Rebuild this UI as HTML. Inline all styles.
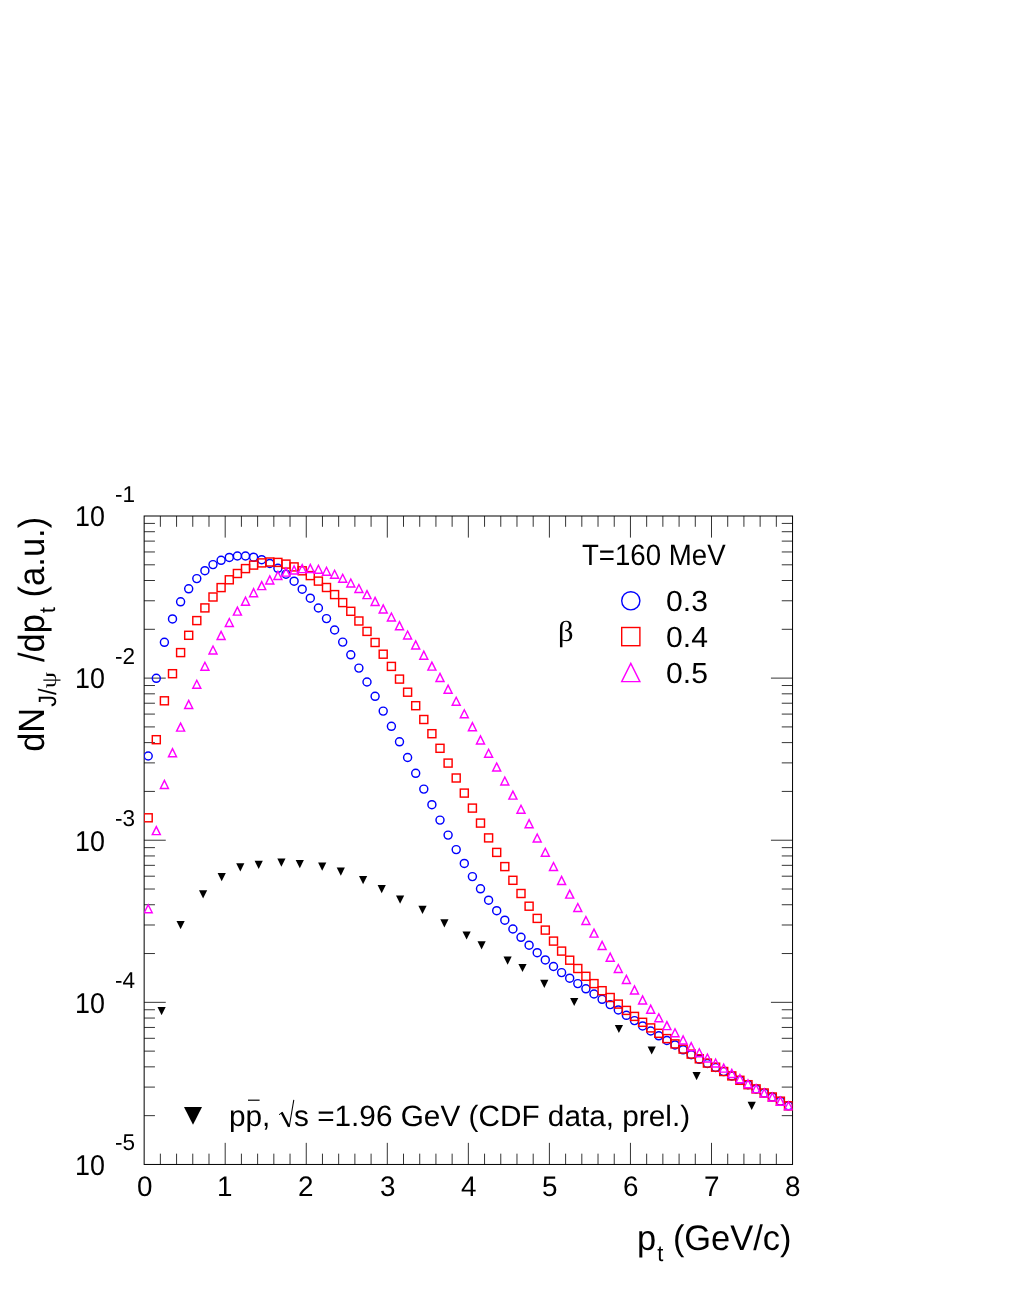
<!DOCTYPE html>
<html><head><meta charset="utf-8"><title>J/psi pt spectrum</title>
<style>
html,body{margin:0;padding:0;background:#fff;}
body{width:1011px;height:1309px;position:relative;overflow:hidden;font-family:"Liberation Sans",sans-serif;color:#000;}
#txt{position:absolute;left:0;top:0;width:1011px;height:1309px;will-change:transform;text-rendering:geometricPrecision;}
.t{position:absolute;white-space:nowrap;line-height:1;}
.s{display:inline-block;transform-origin:0 0;}
.sym{font-family:"Liberation Serif",serif;}
</style></head><body>
<svg width="1011" height="1309" viewBox="0 0 1011 1309" style="position:absolute;left:0;top:0">
<defs><clipPath id="fc"><rect x="144.2" y="516.0" width="648.4" height="648.5"/></clipPath></defs>
<g stroke="#000" fill="none">
<rect x="144.15" y="516.00" width="648.40" height="648.45" stroke-width="1.0"/>
<path stroke-width="0.8" d="M160.36 1164.45v-10.80M160.36 516.00v10.80M176.57 1164.45v-10.80M176.57 516.00v10.80M192.78 1164.45v-10.80M192.78 516.00v10.80M208.99 1164.45v-10.80M208.99 516.00v10.80M225.20 1164.45v-21.60M225.20 516.00v21.60M241.41 1164.45v-10.80M241.41 516.00v10.80M257.62 1164.45v-10.80M257.62 516.00v10.80M273.83 1164.45v-10.80M273.83 516.00v10.80M290.04 1164.45v-10.80M290.04 516.00v10.80M306.25 1164.45v-21.60M306.25 516.00v21.60M322.46 1164.45v-10.80M322.46 516.00v10.80M338.67 1164.45v-10.80M338.67 516.00v10.80M354.88 1164.45v-10.80M354.88 516.00v10.80M371.09 1164.45v-10.80M371.09 516.00v10.80M387.30 1164.45v-21.60M387.30 516.00v21.60M403.51 1164.45v-10.80M403.51 516.00v10.80M419.72 1164.45v-10.80M419.72 516.00v10.80M435.93 1164.45v-10.80M435.93 516.00v10.80M452.14 1164.45v-10.80M452.14 516.00v10.80M468.35 1164.45v-21.60M468.35 516.00v21.60M484.56 1164.45v-10.80M484.56 516.00v10.80M500.77 1164.45v-10.80M500.77 516.00v10.80M516.98 1164.45v-10.80M516.98 516.00v10.80M533.19 1164.45v-10.80M533.19 516.00v10.80M549.40 1164.45v-21.60M549.40 516.00v21.60M565.61 1164.45v-10.80M565.61 516.00v10.80M581.82 1164.45v-10.80M581.82 516.00v10.80M598.03 1164.45v-10.80M598.03 516.00v10.80M614.24 1164.45v-10.80M614.24 516.00v10.80M630.45 1164.45v-21.60M630.45 516.00v21.60M646.66 1164.45v-10.80M646.66 516.00v10.80M662.87 1164.45v-10.80M662.87 516.00v10.80M679.08 1164.45v-10.80M679.08 516.00v10.80M695.29 1164.45v-10.80M695.29 516.00v10.80M711.50 1164.45v-21.60M711.50 516.00v21.60M727.71 1164.45v-10.80M727.71 516.00v10.80M743.92 1164.45v-10.80M743.92 516.00v10.80M760.13 1164.45v-10.80M760.13 516.00v10.80M776.34 1164.45v-10.80M776.34 516.00v10.80M144.15 629.31h10.80M792.55 629.31h-10.80M144.15 600.77h10.80M792.55 600.77h-10.80M144.15 580.51h10.80M792.55 580.51h-10.80M144.15 564.80h10.80M792.55 564.80h-10.80M144.15 551.96h10.80M792.55 551.96h-10.80M144.15 541.11h10.80M792.55 541.11h-10.80M144.15 531.71h10.80M792.55 531.71h-10.80M144.15 523.42h10.80M792.55 523.42h-10.80M144.15 678.11h21.60M792.55 678.11h-21.60M144.15 791.42h10.80M792.55 791.42h-10.80M144.15 762.88h10.80M792.55 762.88h-10.80M144.15 742.62h10.80M792.55 742.62h-10.80M144.15 726.91h10.80M792.55 726.91h-10.80M144.15 714.08h10.80M792.55 714.08h-10.80M144.15 703.22h10.80M792.55 703.22h-10.80M144.15 693.82h10.80M792.55 693.82h-10.80M144.15 685.53h10.80M792.55 685.53h-10.80M144.15 840.23h21.60M792.55 840.23h-21.60M144.15 953.54h10.80M792.55 953.54h-10.80M144.15 924.99h10.80M792.55 924.99h-10.80M144.15 904.74h10.80M792.55 904.74h-10.80M144.15 889.03h10.80M792.55 889.03h-10.80M144.15 876.19h10.80M792.55 876.19h-10.80M144.15 865.34h10.80M792.55 865.34h-10.80M144.15 855.94h10.80M792.55 855.94h-10.80M144.15 847.64h10.80M792.55 847.64h-10.80M144.15 1002.34h21.60M792.55 1002.34h-21.60M144.15 1115.65h10.80M792.55 1115.65h-10.80M144.15 1087.10h10.80M792.55 1087.10h-10.80M144.15 1066.85h10.80M792.55 1066.85h-10.80M144.15 1051.14h10.80M792.55 1051.14h-10.80M144.15 1038.30h10.80M792.55 1038.30h-10.80M144.15 1027.45h10.80M792.55 1027.45h-10.80M144.15 1018.05h10.80M792.55 1018.05h-10.80M144.15 1009.76h10.80M792.55 1009.76h-10.80"/>
</g>
<g clip-path="url(#fc)" fill="none" stroke-width="1.45">
<g stroke="#0000ff">
<circle cx="148.2" cy="756.0" r="4.0"/>
<circle cx="156.3" cy="678.3" r="4.0"/>
<circle cx="164.4" cy="642.3" r="4.0"/>
<circle cx="172.5" cy="618.9" r="4.0"/>
<circle cx="180.6" cy="601.8" r="4.0"/>
<circle cx="188.7" cy="588.8" r="4.0"/>
<circle cx="196.8" cy="578.6" r="4.0"/>
<circle cx="204.9" cy="570.7" r="4.0"/>
<circle cx="213.0" cy="564.6" r="4.0"/>
<circle cx="221.1" cy="560.3" r="4.0"/>
<circle cx="229.3" cy="557.4" r="4.0"/>
<circle cx="237.4" cy="556.0" r="4.0"/>
<circle cx="245.5" cy="556.0" r="4.0"/>
<circle cx="253.6" cy="557.2" r="4.0"/>
<circle cx="261.7" cy="559.7" r="4.0"/>
<circle cx="269.8" cy="563.4" r="4.0"/>
<circle cx="277.9" cy="568.3" r="4.0"/>
<circle cx="286.0" cy="574.2" r="4.0"/>
<circle cx="294.1" cy="581.2" r="4.0"/>
<circle cx="302.2" cy="589.2" r="4.0"/>
<circle cx="310.3" cy="598.2" r="4.0"/>
<circle cx="318.4" cy="608.0" r="4.0"/>
<circle cx="326.5" cy="618.6" r="4.0"/>
<circle cx="334.6" cy="630.0" r="4.0"/>
<circle cx="342.7" cy="642.1" r="4.0"/>
<circle cx="350.8" cy="654.8" r="4.0"/>
<circle cx="358.9" cy="668.1" r="4.0"/>
<circle cx="367.0" cy="682.0" r="4.0"/>
<circle cx="375.1" cy="696.3" r="4.0"/>
<circle cx="383.2" cy="711.1" r="4.0"/>
<circle cx="391.4" cy="726.3" r="4.0"/>
<circle cx="399.5" cy="741.8" r="4.0"/>
<circle cx="407.6" cy="757.5" r="4.0"/>
<circle cx="415.7" cy="773.3" r="4.0"/>
<circle cx="423.8" cy="789.1" r="4.0"/>
<circle cx="431.9" cy="804.7" r="4.0"/>
<circle cx="440.0" cy="820.1" r="4.0"/>
<circle cx="448.1" cy="835.1" r="4.0"/>
<circle cx="456.2" cy="849.6" r="4.0"/>
<circle cx="464.3" cy="863.4" r="4.0"/>
<circle cx="472.4" cy="876.6" r="4.0"/>
<circle cx="480.5" cy="888.8" r="4.0"/>
<circle cx="488.6" cy="900.2" r="4.0"/>
<circle cx="496.7" cy="910.7" r="4.0"/>
<circle cx="504.8" cy="920.2" r="4.0"/>
<circle cx="512.9" cy="929.0" r="4.0"/>
<circle cx="521.0" cy="937.3" r="4.0"/>
<circle cx="529.1" cy="945.2" r="4.0"/>
<circle cx="537.2" cy="952.7" r="4.0"/>
<circle cx="545.3" cy="959.9" r="4.0"/>
<circle cx="553.5" cy="966.5" r="4.0"/>
<circle cx="561.6" cy="972.6" r="4.0"/>
<circle cx="569.7" cy="978.2" r="4.0"/>
<circle cx="577.8" cy="983.6" r="4.0"/>
<circle cx="585.9" cy="988.8" r="4.0"/>
<circle cx="594.0" cy="994.0" r="4.0"/>
<circle cx="602.1" cy="999.3" r="4.0"/>
<circle cx="610.2" cy="1004.6" r="4.0"/>
<circle cx="618.3" cy="1009.9" r="4.0"/>
<circle cx="626.4" cy="1015.3" r="4.0"/>
<circle cx="634.5" cy="1020.6" r="4.0"/>
<circle cx="642.6" cy="1025.9" r="4.0"/>
<circle cx="650.7" cy="1031.0" r="4.0"/>
<circle cx="658.8" cy="1035.8" r="4.0"/>
<circle cx="666.9" cy="1040.4" r="4.0"/>
<circle cx="675.0" cy="1044.9" r="4.0"/>
<circle cx="683.1" cy="1049.8" r="4.0"/>
<circle cx="691.2" cy="1054.7" r="4.0"/>
<circle cx="699.3" cy="1059.3" r="4.0"/>
<circle cx="707.4" cy="1063.5" r="4.0"/>
<circle cx="715.6" cy="1067.5" r="4.0"/>
<circle cx="723.7" cy="1071.6" r="4.0"/>
<circle cx="731.8" cy="1075.9" r="4.0"/>
<circle cx="739.9" cy="1080.3" r="4.0"/>
<circle cx="748.0" cy="1084.7" r="4.0"/>
<circle cx="756.1" cy="1088.9" r="4.0"/>
<circle cx="764.2" cy="1093.0" r="4.0"/>
<circle cx="772.3" cy="1097.0" r="4.0"/>
<circle cx="780.4" cy="1101.2" r="4.0"/>
<circle cx="788.5" cy="1105.8" r="4.0"/>
</g><g stroke="#ff0000">
<rect x="144.2" y="813.8" width="8.0" height="8.0"/>
<rect x="152.3" y="735.7" width="8.0" height="8.0"/>
<rect x="160.4" y="696.8" width="8.0" height="8.0"/>
<rect x="168.5" y="669.7" width="8.0" height="8.0"/>
<rect x="176.6" y="648.6" width="8.0" height="8.0"/>
<rect x="184.7" y="631.3" width="8.0" height="8.0"/>
<rect x="192.8" y="616.6" width="8.0" height="8.0"/>
<rect x="200.9" y="603.9" width="8.0" height="8.0"/>
<rect x="209.0" y="593.0" width="8.0" height="8.0"/>
<rect x="217.1" y="583.6" width="8.0" height="8.0"/>
<rect x="225.3" y="575.8" width="8.0" height="8.0"/>
<rect x="233.4" y="569.5" width="8.0" height="8.0"/>
<rect x="241.5" y="564.6" width="8.0" height="8.0"/>
<rect x="249.6" y="561.1" width="8.0" height="8.0"/>
<rect x="257.7" y="558.9" width="8.0" height="8.0"/>
<rect x="265.8" y="558.0" width="8.0" height="8.0"/>
<rect x="273.9" y="558.4" width="8.0" height="8.0"/>
<rect x="282.0" y="560.1" width="8.0" height="8.0"/>
<rect x="290.1" y="562.9" width="8.0" height="8.0"/>
<rect x="298.2" y="566.8" width="8.0" height="8.0"/>
<rect x="306.3" y="571.6" width="8.0" height="8.0"/>
<rect x="314.4" y="577.1" width="8.0" height="8.0"/>
<rect x="322.5" y="583.5" width="8.0" height="8.0"/>
<rect x="330.6" y="590.6" width="8.0" height="8.0"/>
<rect x="338.7" y="598.6" width="8.0" height="8.0"/>
<rect x="346.8" y="607.3" width="8.0" height="8.0"/>
<rect x="354.9" y="617.0" width="8.0" height="8.0"/>
<rect x="363.0" y="627.4" width="8.0" height="8.0"/>
<rect x="371.1" y="638.5" width="8.0" height="8.0"/>
<rect x="379.2" y="650.2" width="8.0" height="8.0"/>
<rect x="387.4" y="662.4" width="8.0" height="8.0"/>
<rect x="395.5" y="675.1" width="8.0" height="8.0"/>
<rect x="403.6" y="688.2" width="8.0" height="8.0"/>
<rect x="411.7" y="701.7" width="8.0" height="8.0"/>
<rect x="419.8" y="715.5" width="8.0" height="8.0"/>
<rect x="427.9" y="729.7" width="8.0" height="8.0"/>
<rect x="436.0" y="744.3" width="8.0" height="8.0"/>
<rect x="444.1" y="759.1" width="8.0" height="8.0"/>
<rect x="452.2" y="774.0" width="8.0" height="8.0"/>
<rect x="460.3" y="789.1" width="8.0" height="8.0"/>
<rect x="468.4" y="804.1" width="8.0" height="8.0"/>
<rect x="476.5" y="819.1" width="8.0" height="8.0"/>
<rect x="484.6" y="833.9" width="8.0" height="8.0"/>
<rect x="492.7" y="848.4" width="8.0" height="8.0"/>
<rect x="500.8" y="862.6" width="8.0" height="8.0"/>
<rect x="508.9" y="876.3" width="8.0" height="8.0"/>
<rect x="517.0" y="889.5" width="8.0" height="8.0"/>
<rect x="525.1" y="902.2" width="8.0" height="8.0"/>
<rect x="533.2" y="914.4" width="8.0" height="8.0"/>
<rect x="541.3" y="926.1" width="8.0" height="8.0"/>
<rect x="549.5" y="937.1" width="8.0" height="8.0"/>
<rect x="557.6" y="947.1" width="8.0" height="8.0"/>
<rect x="565.7" y="956.2" width="8.0" height="8.0"/>
<rect x="573.8" y="964.5" width="8.0" height="8.0"/>
<rect x="581.9" y="972.3" width="8.0" height="8.0"/>
<rect x="590.0" y="979.6" width="8.0" height="8.0"/>
<rect x="598.1" y="986.7" width="8.0" height="8.0"/>
<rect x="606.2" y="993.5" width="8.0" height="8.0"/>
<rect x="614.3" y="1000.1" width="8.0" height="8.0"/>
<rect x="622.4" y="1006.4" width="8.0" height="8.0"/>
<rect x="630.5" y="1012.4" width="8.0" height="8.0"/>
<rect x="638.6" y="1018.3" width="8.0" height="8.0"/>
<rect x="646.7" y="1023.9" width="8.0" height="8.0"/>
<rect x="654.8" y="1029.3" width="8.0" height="8.0"/>
<rect x="662.9" y="1034.6" width="8.0" height="8.0"/>
<rect x="671.0" y="1039.9" width="8.0" height="8.0"/>
<rect x="679.1" y="1045.1" width="8.0" height="8.0"/>
<rect x="687.2" y="1050.1" width="8.0" height="8.0"/>
<rect x="695.3" y="1054.8" width="8.0" height="8.0"/>
<rect x="703.4" y="1059.1" width="8.0" height="8.0"/>
<rect x="711.6" y="1063.2" width="8.0" height="8.0"/>
<rect x="719.7" y="1067.5" width="8.0" height="8.0"/>
<rect x="727.8" y="1071.9" width="8.0" height="8.0"/>
<rect x="735.9" y="1076.3" width="8.0" height="8.0"/>
<rect x="744.0" y="1080.7" width="8.0" height="8.0"/>
<rect x="752.1" y="1084.9" width="8.0" height="8.0"/>
<rect x="760.2" y="1089.0" width="8.0" height="8.0"/>
<rect x="768.3" y="1093.0" width="8.0" height="8.0"/>
<rect x="776.4" y="1097.2" width="8.0" height="8.0"/>
<rect x="784.5" y="1101.8" width="8.0" height="8.0"/>
</g><g stroke="#ff00ff">
<path d="M144.2 912.8h8.0l-4.0 -8.0z"/>
<path d="M152.3 834.6h8.0l-4.0 -8.0z"/>
<path d="M160.4 788.4h8.0l-4.0 -8.0z"/>
<path d="M168.5 756.7h8.0l-4.0 -8.0z"/>
<path d="M176.6 731.1h8.0l-4.0 -8.0z"/>
<path d="M184.7 708.4h8.0l-4.0 -8.0z"/>
<path d="M192.8 688.3h8.0l-4.0 -8.0z"/>
<path d="M200.9 670.3h8.0l-4.0 -8.0z"/>
<path d="M209.0 654.0h8.0l-4.0 -8.0z"/>
<path d="M217.1 639.4h8.0l-4.0 -8.0z"/>
<path d="M225.3 626.5h8.0l-4.0 -8.0z"/>
<path d="M233.4 615.1h8.0l-4.0 -8.0z"/>
<path d="M241.5 605.2h8.0l-4.0 -8.0z"/>
<path d="M249.6 596.7h8.0l-4.0 -8.0z"/>
<path d="M257.7 589.6h8.0l-4.0 -8.0z"/>
<path d="M265.8 583.9h8.0l-4.0 -8.0z"/>
<path d="M273.9 579.4h8.0l-4.0 -8.0z"/>
<path d="M282.0 576.1h8.0l-4.0 -8.0z"/>
<path d="M290.1 573.9h8.0l-4.0 -8.0z"/>
<path d="M298.2 572.6h8.0l-4.0 -8.0z"/>
<path d="M306.3 572.4h8.0l-4.0 -8.0z"/>
<path d="M314.4 573.3h8.0l-4.0 -8.0z"/>
<path d="M322.5 575.3h8.0l-4.0 -8.0z"/>
<path d="M330.6 578.3h8.0l-4.0 -8.0z"/>
<path d="M338.7 582.3h8.0l-4.0 -8.0z"/>
<path d="M346.8 587.0h8.0l-4.0 -8.0z"/>
<path d="M354.9 592.5h8.0l-4.0 -8.0z"/>
<path d="M363.0 598.6h8.0l-4.0 -8.0z"/>
<path d="M371.1 605.4h8.0l-4.0 -8.0z"/>
<path d="M379.2 612.9h8.0l-4.0 -8.0z"/>
<path d="M387.4 621.0h8.0l-4.0 -8.0z"/>
<path d="M395.5 629.7h8.0l-4.0 -8.0z"/>
<path d="M403.6 639.0h8.0l-4.0 -8.0z"/>
<path d="M411.7 648.9h8.0l-4.0 -8.0z"/>
<path d="M419.8 659.2h8.0l-4.0 -8.0z"/>
<path d="M427.9 670.1h8.0l-4.0 -8.0z"/>
<path d="M436.0 681.4h8.0l-4.0 -8.0z"/>
<path d="M444.1 693.2h8.0l-4.0 -8.0z"/>
<path d="M452.2 705.3h8.0l-4.0 -8.0z"/>
<path d="M460.3 717.8h8.0l-4.0 -8.0z"/>
<path d="M468.4 730.7h8.0l-4.0 -8.0z"/>
<path d="M476.5 743.9h8.0l-4.0 -8.0z"/>
<path d="M484.6 757.3h8.0l-4.0 -8.0z"/>
<path d="M492.7 771.0h8.0l-4.0 -8.0z"/>
<path d="M500.8 785.0h8.0l-4.0 -8.0z"/>
<path d="M508.9 799.1h8.0l-4.0 -8.0z"/>
<path d="M517.0 813.3h8.0l-4.0 -8.0z"/>
<path d="M525.1 827.7h8.0l-4.0 -8.0z"/>
<path d="M533.2 842.0h8.0l-4.0 -8.0z"/>
<path d="M541.3 856.3h8.0l-4.0 -8.0z"/>
<path d="M549.5 870.5h8.0l-4.0 -8.0z"/>
<path d="M557.6 884.4h8.0l-4.0 -8.0z"/>
<path d="M565.7 898.1h8.0l-4.0 -8.0z"/>
<path d="M573.8 911.5h8.0l-4.0 -8.0z"/>
<path d="M581.9 924.5h8.0l-4.0 -8.0z"/>
<path d="M590.0 937.1h8.0l-4.0 -8.0z"/>
<path d="M598.1 949.4h8.0l-4.0 -8.0z"/>
<path d="M606.2 961.2h8.0l-4.0 -8.0z"/>
<path d="M614.3 972.5h8.0l-4.0 -8.0z"/>
<path d="M622.4 983.4h8.0l-4.0 -8.0z"/>
<path d="M630.5 993.9h8.0l-4.0 -8.0z"/>
<path d="M638.6 1003.9h8.0l-4.0 -8.0z"/>
<path d="M646.7 1013.2h8.0l-4.0 -8.0z"/>
<path d="M654.8 1021.8h8.0l-4.0 -8.0z"/>
<path d="M662.9 1029.6h8.0l-4.0 -8.0z"/>
<path d="M671.0 1036.8h8.0l-4.0 -8.0z"/>
<path d="M679.1 1043.9h8.0l-4.0 -8.0z"/>
<path d="M687.2 1050.7h8.0l-4.0 -8.0z"/>
<path d="M695.3 1056.8h8.0l-4.0 -8.0z"/>
<path d="M703.4 1062.0h8.0l-4.0 -8.0z"/>
<path d="M711.6 1067.0h8.0l-4.0 -8.0z"/>
<path d="M719.7 1072.1h8.0l-4.0 -8.0z"/>
<path d="M727.8 1077.4h8.0l-4.0 -8.0z"/>
<path d="M735.9 1082.7h8.0l-4.0 -8.0z"/>
<path d="M744.0 1087.8h8.0l-4.0 -8.0z"/>
<path d="M752.1 1092.6h8.0l-4.0 -8.0z"/>
<path d="M760.2 1096.9h8.0l-4.0 -8.0z"/>
<path d="M768.3 1101.0h8.0l-4.0 -8.0z"/>
<path d="M776.4 1105.2h8.0l-4.0 -8.0z"/>
<path d="M784.5 1109.8h8.0l-4.0 -8.0z"/>
</g><g fill="#000" stroke="none">
<path d="M157.5 1007.0h8.2l-4.1 8.2z"/>
<path d="M176.5 921.0h8.2l-4.1 8.2z"/>
<path d="M199.0 890.3h8.2l-4.1 8.2z"/>
<path d="M217.6 873.1h8.2l-4.1 8.2z"/>
<path d="M236.2 863.2h8.2l-4.1 8.2z"/>
<path d="M254.6 860.8h8.2l-4.1 8.2z"/>
<path d="M277.3 858.5h8.2l-4.1 8.2z"/>
<path d="M295.7 860.0h8.2l-4.1 8.2z"/>
<path d="M318.1 862.6h8.2l-4.1 8.2z"/>
<path d="M336.7 867.6h8.2l-4.1 8.2z"/>
<path d="M359.0 876.1h8.2l-4.1 8.2z"/>
<path d="M377.6 885.0h8.2l-4.1 8.2z"/>
<path d="M396.0 895.6h8.2l-4.1 8.2z"/>
<path d="M418.4 905.7h8.2l-4.1 8.2z"/>
<path d="M440.3 919.2h8.2l-4.1 8.2z"/>
<path d="M462.5 931.4h8.2l-4.1 8.2z"/>
<path d="M477.5 941.3h8.2l-4.1 8.2z"/>
<path d="M503.5 956.6h8.2l-4.1 8.2z"/>
<path d="M518.4 963.9h8.2l-4.1 8.2z"/>
<path d="M540.2 979.8h8.2l-4.1 8.2z"/>
<path d="M570.1 997.9h8.2l-4.1 8.2z"/>
<path d="M614.8 1024.9h8.2l-4.1 8.2z"/>
<path d="M647.6 1046.4h8.2l-4.1 8.2z"/>
<path d="M692.5 1072.0h8.2l-4.1 8.2z"/>
<path d="M747.6 1101.7h8.2l-4.1 8.2z"/>
</g></g>
<g fill="none" stroke-width="1.4">
<circle cx="630.8" cy="600.8" r="9.1" stroke="#0000ff"/>
<rect x="621.7" y="627.5" width="18.2" height="18.2" stroke="#ff0000"/>
<path d="M621.7 681.6h18.2l-9.1 -18.2z" stroke="#ff00ff"/>
</g>
<path d="M184.0 1107.1h18.0l-9.0 17.6z" fill="#000"/>
<g stroke="#000" fill="none" stroke-linecap="butt" stroke-linejoin="miter"><path d="M279.0 1114.7L282.0 1112.7" stroke-width="1"/><path d="M281.6 1112.4L289.0 1126.6" stroke-width="2.3"/><path d="M289.2 1127.0L293.8 1099.9" stroke-width="1.05"/><path d="M248.0 1100.2H259.6" stroke-width="1.2"/></g>
</svg>
<div id="txt">
<div class="t" style="left:137.00px;top:1172.00px;font-size:28.23px;"><span class="s" style="transform:scaleX(0.9860)">0</span></div>
<div class="t" style="left:217.00px;top:1172.00px;font-size:28.23px;"><span class="s" style="transform:scaleX(0.9860)">1</span></div>
<div class="t" style="left:298.00px;top:1172.00px;font-size:28.23px;"><span class="s" style="transform:scaleX(0.9860)">2</span></div>
<div class="t" style="left:380.00px;top:1172.00px;font-size:28.23px;"><span class="s" style="transform:scaleX(0.9860)">3</span></div>
<div class="t" style="left:461.00px;top:1172.00px;font-size:28.23px;"><span class="s" style="transform:scaleX(0.9860)">4</span></div>
<div class="t" style="left:542.00px;top:1172.00px;font-size:28.23px;"><span class="s" style="transform:scaleX(0.9860)">5</span></div>
<div class="t" style="left:623.00px;top:1172.00px;font-size:28.23px;"><span class="s" style="transform:scaleX(0.9860)">6</span></div>
<div class="t" style="left:704.00px;top:1172.00px;font-size:28.23px;"><span class="s" style="transform:scaleX(0.9860)">7</span></div>
<div class="t" style="left:785.00px;top:1172.00px;font-size:28.23px;"><span class="s" style="transform:scaleX(0.9860)">8</span></div>
<div class="t" style="left:75.00px;top:503.00px;font-size:28.65px;"><span class="s" style="transform:scaleX(0.9384)">10</span></div>
<div class="t" style="left:115.00px;top:483.00px;font-size:22.94px;"><span class="s" style="transform:scaleX(0.9837)">-1</span></div>
<div class="t" style="left:75.00px;top:665.00px;font-size:28.65px;"><span class="s" style="transform:scaleX(0.9384)">10</span></div>
<div class="t" style="left:115.00px;top:645.00px;font-size:22.94px;"><span class="s" style="transform:scaleX(0.9837)">-2</span></div>
<div class="t" style="left:75.00px;top:828.00px;font-size:28.65px;"><span class="s" style="transform:scaleX(0.9384)">10</span></div>
<div class="t" style="left:115.00px;top:807.00px;font-size:22.94px;"><span class="s" style="transform:scaleX(0.9837)">-3</span></div>
<div class="t" style="left:75.00px;top:990.00px;font-size:28.65px;"><span class="s" style="transform:scaleX(0.9384)">10</span></div>
<div class="t" style="left:115.00px;top:969.00px;font-size:22.94px;"><span class="s" style="transform:scaleX(0.9837)">-4</span></div>
<div class="t" style="left:75.00px;top:1152.00px;font-size:28.65px;"><span class="s" style="transform:scaleX(0.9384)">10</span></div>
<div class="t" style="left:115.00px;top:1131.00px;font-size:22.94px;"><span class="s" style="transform:scaleX(0.9837)">-5</span></div>
<div class="t" style="left:582.00px;top:541.00px;font-size:29.38px;"><span class="s" style="transform:scaleX(0.9403)">T=160 MeV</span></div>
<div class="t" style="left:666.00px;top:588.00px;font-size:29.07px;"><span class="s" style="transform:scaleX(1.0371)">0.3</span></div>
<div class="t" style="left:666.00px;top:624.00px;font-size:29.07px;"><span class="s" style="transform:scaleX(1.0371)">0.4</span></div>
<div class="t" style="left:666.00px;top:660.00px;font-size:29.07px;"><span class="s" style="transform:scaleX(1.0371)">0.5</span></div>
<div class="t" style="left:558.00px;top:618.00px;font-size:28.93px;"><span class="s" style="transform:scaleX(1.0583)"><span class="sym">&beta;</span></span></div>
<div class="t" style="left:294.00px;top:1102.00px;font-size:29.35px;"><span class="s" style="transform:scaleX(1.0141)">s =1.96 GeV (CDF data, prel.)</span></div>
<div class="t" style="left:229.00px;top:1102.00px;font-size:29.35px;"><span class="s" style="transform:scaleX(1.0141)">pp,</span></div>
<div class="t" style="left:637.00px;top:1221.00px;font-size:35.56px;"><span class="s" style="transform:scaleX(0.9678)">p<span style="font-size:0.6367em;position:relative;top:0.4814em;margin-left:0.05em">t</span> (GeV/c)</span></div>
<div class="t" style="left:13px;top:751px;font-size:36.51px;transform-origin:0 0;transform:translate(0.60px,0.87px) rotate(-90deg)"><span class="s" style="transform:scaleX(0.9458)">dN<span style="font-size:0.6872em;position:relative;top:0.4623em;margin-left:0.04em">J/<span class="sym" style="display:inline-block;transform:scale(1.1,0.84);transform-origin:50% 84%;margin:0 0.04em">&psi;</span></span> /dp<span style="font-size:0.6201em;position:relative;top:0.4814em;margin-left:0.05em">t</span> (a.u.)</span></div>
</div>
</body></html>
